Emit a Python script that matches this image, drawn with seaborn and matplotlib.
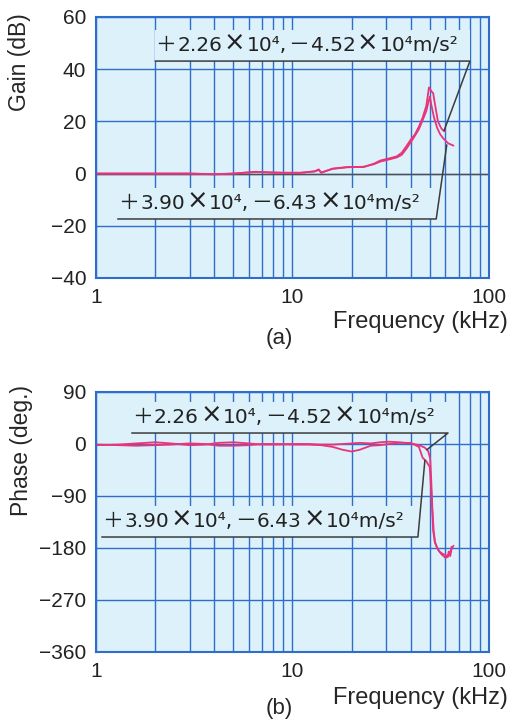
import numpy as np
import pandas as pd
import seaborn as sns
import matplotlib
matplotlib.use('Agg')
from matplotlib import pyplot as plt
from matplotlib.ticker import FixedLocator, FixedFormatter, NullFormatter
from matplotlib.offsetbox import TextArea, HPacker, AnnotationBbox

sns.set_theme(style='white')
plt.rcParams['font.family'] = ['Liberation Sans', 'DejaVu Sans']
plt.rcParams['axes.unicode_minus'] = True

# x axis (kHz)
major_f = [1, 10, 100]
major_lbl = ['1', '10', '100']
minor_f = [2, 3, 4, 5, 6, 7, 8, 9, 20, 30, 40, 50, 60, 70, 80, 90]

# gain curves (dB)
gain_f_a = [1, 2, 3, 4, 5, 6, 6.5, 7.5, 9, 11, 13, 13.6, 14, 16, 19, 23, 26, 28, 31, 34,
            36, 38, 40, 42, 44, 46, 48, 49.5, 51, 52, 53, 55, 57, 58.5, 60]
gain_a = [0, 0, 0, -0.3, 0, 0.5, 0.7, 0.4, 0.3, 0.3, 0.9, 1.6, 0.3, 1.9, 2.5, 2.5, 3.8, 5.0, 5.8, 6.6,
          8.0, 10.5, 13.0, 15.0, 18.0, 21.5, 26.0, 33.0, 31.5, 30.8, 27.0, 20.0, 17.5, 16.5, 16.3]
gain_f_b = [1, 2, 3, 4, 5, 6, 6.5, 7.5, 9, 11, 13, 13.6, 14, 16, 19, 23, 26, 28, 31, 34,
            36, 38, 40, 42, 44, 46, 48, 50, 51, 52.5, 54.5, 56.5, 58.5, 62, 66]
gain_b = [0, 0, 0, -0.2, 0, 0.4, 0.6, 0.5, 0.3, 0.3, 0.8, 1.4, 0.4, 1.8, 2.4, 2.6, 3.6, 4.6, 5.4, 6.2,
          7.2, 9.5, 12.0, 14.5, 17.0, 20.5, 24.0, 29.5, 26.0, 21.5, 17.5, 15.0, 13.5, 11.6, 10.7]

# phase curves (deg.)
phase_f_a = [1, 1.3, 1.6, 2, 2.4, 3, 3.6, 4.2, 5, 6, 7, 8.5, 10, 12, 14, 16, 18, 20, 22, 25,
             28, 31, 35, 40, 44, 47, 49, 50.2, 50.8, 51.5, 52.3, 53.2, 54.5, 56, 58, 60,
             61.5, 62.5, 63.5, 64.5, 66]
phase_a = [-2, -1, 1, 3, 1, -2, -1, 2, 3, 1, -1, -1, 0, 0, -1, -1, 0, 1, 2, 1,
           3, 4, 3, 1, -2, -6, -12, -25, -60, -110, -150, -170, -180, -186, -190, -192,
           -195, -186, -194, -182, -176]
phase_f_b = [1, 1.3, 1.6, 2, 2.4, 3, 3.6, 4.2, 5, 6, 7, 8.5, 10, 12, 14, 16, 18, 20, 22, 25,
             28, 31, 35, 40, 44, 46, 48, 50, 51, 52, 53, 55, 57, 60, 62, 63, 64, 64.5]
phase_b = [-1, -2, -3, -2, -1, 1, 0, -3, -3, -2, 0, 0, -1, -1, -2, -5, -10, -13, -10, -3,
           -2, 0, 2, 2, -5, -24, -30, -40, -90, -150, -170, -183, -190, -197, -195, -188,
           -185, -178]

# annotation texts (split so the signs and crosses can be set wider)
txt_a = ['＋', '2.26', '×', '10⁴,', '－', '4.52', '×', '10⁴m/s²']
txt_b = ['＋', '3.90', '×', '10⁴,', '－', '6.43', '×', '10⁴m/s²']
# anchors: (left f, right f, underline y, tip f, tip y)
gain_note_a = (2.0, 80.0, 43.1, 59.0, 16.3)
gain_note_b = (1.29, 53.9, -17.4, 61.0, 11.0)
phase_note_a = (1.52, 61.9, 19.0, 48.3, -10.0)
phase_note_b = (1.07, 43.5, -161.0, 47.2, -28.0)

bg = '#dcf1fa'
grid_blue = '#2f6dcc'
pink = '#e8347a'
lead = '#3c3c3c'
box_px = 31  # height of the label patch that hides the grid


def style(ax, yticks):
    ax.set_facecolor(bg)
    ax.set_xscale('log')
    ax.set_xlim(1, 100)
    ax.set_ylim(yticks[0], yticks[-1])
    ax.set_yticks(yticks)
    ax.xaxis.set_major_locator(FixedLocator(major_f))
    ax.xaxis.set_major_formatter(FixedFormatter(major_lbl))
    ax.xaxis.set_minor_locator(FixedLocator(minor_f))
    ax.xaxis.set_minor_formatter(NullFormatter())
    ax.grid(True, which='both', axis='x', color=grid_blue, lw=1.0)
    ax.grid(True, which='major', axis='y', color=grid_blue, lw=1.0)
    ax.tick_params(which='both', length=0, labelsize=15, pad=7, colors='#222222')
    for s in ax.spines.values():
        s.set_color(grid_blue)
        s.set_linewidth(1.5)


def part_props(s):
    if s in ('＋', '－'):
        return dict(family=['Noto Sans CJK JP'], fontsize=15, color='#222222')
    if s == '×':
        return dict(family=['DejaVu Sans'], fontsize=18.5, color='#222222')
    return dict(family=['DejaVu Sans'], fontsize=14.5, color='#222222')


def note(ax, parts, anchor):
    left, right, y, tx, ty = anchor
    y0, y1 = ax.get_ylim()
    h = box_px * (y1 - y0) / (ax.get_position().height * fig.get_figheight() * fig.dpi)
    ax.fill_between([left, right], y, y + h, color=bg, lw=0, zorder=2.5)
    ax.plot([left, right, tx], [y, y, ty], color=lead, lw=1.1, zorder=4)
    areas = [TextArea(s, textprops=part_props(s)) for s in parts]
    box = HPacker(children=areas, align='baseline', pad=0, sep=1)
    ab = AnnotationBbox(box, (left, y), xybox=(0, 3.0), xycoords='data',
                        boxcoords='offset points', box_alignment=(0, 0),
                        frameon=False, pad=0, zorder=3)
    ax.add_artist(ab)


fig = plt.figure(figsize=(5.12, 7.19), dpi=100)
ax1 = fig.add_axes([0.1875, 0.6134, 0.7675, 0.363])
ax2 = fig.add_axes([0.1875, 0.0932, 0.7675, 0.3616])

# (a) gain
style(ax1, [-40, -20, 0, 20, 40, 60])
ax1.axhline(0, color='#505050', lw=1.0, zorder=1.5)
sns.lineplot(x=gain_f_a, y=gain_a, ax=ax1, color=pink, lw=1.3, sort=False, estimator=None)
sns.lineplot(x=gain_f_b, y=gain_b, ax=ax1, color=pink, lw=1.3, sort=False, estimator=None)
note(ax1, txt_a, gain_note_a)
note(ax1, txt_b, gain_note_b)
ax1.set_ylabel('Gain (dB)', fontsize=16.5, loc='top')
ax1.yaxis.set_label_coords(-0.165, 1.015)
ax1.set_xlabel('Frequency (kHz)', fontsize=17, ha='right', va='top')
ax1.xaxis.set_label_coords(1.048, -0.126)
ax1.text(0.466, -0.19, '(a)', transform=ax1.transAxes, ha='center', va='top', fontsize=16)

# (b) phase
style(ax2, [-360, -270, -180, -90, 0, 90])
sns.lineplot(x=phase_f_a, y=phase_a, ax=ax2, color=pink, lw=1.3, sort=False, estimator=None)
sns.lineplot(x=phase_f_b, y=phase_b, ax=ax2, color=pink, lw=1.3, sort=False, estimator=None)
note(ax2, txt_a, phase_note_a)
note(ax2, txt_b, phase_note_b)
ax2.set_ylabel('Phase (deg.)', fontsize=16.5, loc='top')
ax2.yaxis.set_label_coords(-0.16, 1.027)
ax2.set_xlabel('Frequency (kHz)', fontsize=17, ha='right', va='top')
ax2.xaxis.set_label_coords(1.048, -0.135)
ax2.text(0.466, -0.178, '(b)', transform=ax2.transAxes, ha='center', va='top', fontsize=16)

fig.savefig('out.png', dpi=100)
